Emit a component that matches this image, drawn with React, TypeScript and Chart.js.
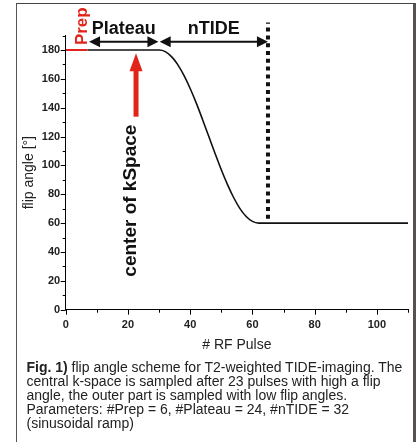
import React, { useEffect, useRef } from "react";
import { Chart, registerables } from "chart.js";

Chart.register(...registerables);

const FONT = "'Liberation Sans', Arial, Helvetica, sans-serif";
const RED = "#e2231a";
const INK = "#111111";

// axis ranges / ticks
const X_MIN = 0;
const X_MAX = 110;
const X_STEP = 10;
const X_LABEL_STEP = 20;
const Y_MIN = 0;
const Y_MAX = 190;
const Y_STEP = 10;
const Y_LABEL_STEP = 20;

// Prep segment (red)
const prepPulses = [0, 7];
const prepAngles = [180, 180];

// flip angle curve (plateau + sinusoidal ramp + low level)
const curvePulses = [7, 30, 32, 34, 36, 38, 40, 42, 44, 46, 48, 50, 52, 54, 56, 58, 60, 62, 110];
const curveAngles = [180, 180, 178.9, 175.4, 169.9, 162.4, 153.3, 143.0, 131.7, 120.0, 108.3, 97.0, 86.7, 77.6, 70.1, 64.6, 61.2, 60, 60];

// end of nTIDE marker (dotted)
const tideEndPulses = [65, 65];
const tideEndAngles = [63, 199];

// annotation anchors (data units)
const PLATEAU_SPAN = [7.5, 29.8];
const TIDE_SPAN = [30.2, 65];
const SPAN_ANGLE = 185.8;
const SPAN_LABEL_ANGLE = 190.9;
const KSPACE_PULSE = 22.6;
const KSPACE_ARROW = [177.7, 133.8];
const KSPACE_TEXT_ANGLE = 22.9;
const PREP_TEXT = [6.8, 183.4];

const toXY = (xs: number[], ys: number[]) => xs.map((x, i) => ({ x, y: ys[i] }));

function arrowHead(ctx: CanvasRenderingContext2D, tx: number, ty: number, dx: number, dy: number, len: number, half: number) {
  // (dx,dy) unit direction of arrow pointing to tip
  const bx = tx - dx * len;
  const by = ty - dy * len;
  ctx.beginPath();
  ctx.moveTo(tx, ty);
  ctx.lineTo(bx - dy * half, by + dx * half);
  ctx.lineTo(bx + dy * half, by - dx * half);
  ctx.closePath();
  ctx.fill();
}

const annotationPlugin = {
  id: "tideAnnotations",
  afterDraw(chart: any) {
    const ctx: CanvasRenderingContext2D = chart.ctx;
    const xs = chart.scales.x;
    const ys = chart.scales.y;
    const area = chart.chartArea;
    ctx.save();

    // tick marks (major + minor)
    ctx.strokeStyle = "#000";
    ctx.lineWidth = 1;
    ctx.beginPath();
    for (let v = X_MIN; v <= X_MAX; v += X_STEP) {
      const px = Math.round(xs.getPixelForValue(v)) + 0.5;
      const len = v % X_LABEL_STEP === 0 ? 5 : 3;
      ctx.moveTo(px, area.bottom);
      ctx.lineTo(px, area.bottom + len);
    }
    for (let v = Y_MIN; v <= Y_MAX; v += Y_STEP) {
      const py = Math.round(ys.getPixelForValue(v)) + 0.5;
      const len = v % Y_LABEL_STEP === 0 ? 5 : 3;
      ctx.moveTo(area.left, py);
      ctx.lineTo(area.left - len, py);
    }
    ctx.stroke();

    // span arrows
    ctx.fillStyle = INK;
    ctx.strokeStyle = INK;
    ctx.lineWidth = 2;
    const ay = ys.getPixelForValue(SPAN_ANGLE);
    for (const span of [PLATEAU_SPAN, TIDE_SPAN]) {
      const x0 = xs.getPixelForValue(span[0]);
      const x1 = xs.getPixelForValue(span[1]);
      ctx.beginPath();
      ctx.moveTo(x0 + 6, ay);
      ctx.lineTo(x1 - 6, ay);
      ctx.stroke();
      arrowHead(ctx, x0, ay, -1, 0, 11, 5.5);
      arrowHead(ctx, x1, ay, 1, 0, 11, 5.5);
    }

    // span labels
    ctx.font = `bold 18px ${FONT}`;
    ctx.textAlign = "center";
    ctx.textBaseline = "alphabetic";
    const ly = ys.getPixelForValue(SPAN_LABEL_ANGLE);
    ctx.fillText("Plateau", xs.getPixelForValue((PLATEAU_SPAN[0] + PLATEAU_SPAN[1]) / 2), ly);
    ctx.fillText("nTIDE", xs.getPixelForValue((TIDE_SPAN[0] + TIDE_SPAN[1]) / 2), ly);

    // Prep label (red, rotated)
    ctx.fillStyle = RED;
    ctx.font = `bold 17px ${FONT}`;
    ctx.save();
    ctx.translate(xs.getPixelForValue(PREP_TEXT[0]), ys.getPixelForValue(PREP_TEXT[1]));
    ctx.rotate(-Math.PI / 2);
    ctx.textAlign = "left";
    ctx.fillText("Prep", 0, 0);
    ctx.restore();

    // center of k-space arrow
    const kx = xs.getPixelForValue(KSPACE_PULSE);
    const tipY = ys.getPixelForValue(KSPACE_ARROW[0]);
    const tailY = ys.getPixelForValue(KSPACE_ARROW[1]);
    ctx.fillRect(kx - 2.5, tipY + 16, 5, tailY - tipY - 16);
    arrowHead(ctx, kx, tipY, 0, -1, 18, 6.5);

    // center of kSpace label
    ctx.fillStyle = INK;
    ctx.font = `bold 19px ${FONT}`;
    ctx.save();
    ctx.translate(xs.getPixelForValue(KSPACE_PULSE), ys.getPixelForValue(KSPACE_TEXT_ANGLE));
    ctx.rotate(-Math.PI / 2);
    ctx.textAlign = "left";
    ctx.fillText("center of kSpace", 0, 0);
    ctx.restore();

    ctx.restore();
  },
};

export default function App() {
  const ref = useRef<HTMLCanvasElement | null>(null);

  useEffect(() => {
    if (!ref.current) return;
    const chart = new Chart(ref.current, {
      type: "line",
      data: {
        datasets: [
          {
            label: "Prep",
            data: toXY(prepPulses, prepAngles),
            borderColor: RED,
            borderWidth: 2,
            pointRadius: 0,
            fill: false,
          },
          {
            label: "flip angle",
            data: toXY(curvePulses, curveAngles),
            borderColor: INK,
            borderWidth: 1.6,
            pointRadius: 0,
            cubicInterpolationMode: "monotone",
            fill: false,
          },
          {
            label: "nTIDE end",
            data: toXY(tideEndPulses, tideEndAngles),
            borderColor: INK,
            borderWidth: 4,
            borderDash: [4, 3.8],
            borderCapStyle: "butt",
            pointRadius: 0,
            fill: false,
            clip: false,
          },
        ],
      },
      options: {
        animation: false,
        responsive: false,
        events: [],
        layout: { padding: { left: 0, top: 35.6, right: 9, bottom: 82.3 } },
        plugins: { legend: { display: false }, tooltip: { enabled: false } },
        scales: {
          x: {
            type: "linear",
            min: X_MIN,
            max: X_MAX,
            afterFit: (s: any) => {
              s.height = 50;
            },
            grid: { display: false, drawTicks: false },
            border: { display: true, color: "#000", width: 1 },
            ticks: {
              stepSize: X_STEP,
              padding: 9,
              maxRotation: 0,
              autoSkip: false,
              color: "#222",
              font: { family: FONT, size: 11, weight: "bold" },
              callback: (v: any) => (Number(v) % X_LABEL_STEP === 0 && Number(v) <= 100 ? String(v) : ""),
            },
            title: {
              display: true,
              text: "# RF Pulse",
              color: "#222",
              font: { family: FONT, size: 14 },
              padding: { top: 0, bottom: 6.3 },
            },
          },
          y: {
            type: "linear",
            min: Y_MIN,
            max: Y_MAX,
            afterFit: (s: any) => {
              s.width = 65.7;
            },
            grid: { display: false, drawTicks: false },
            border: { display: true, color: "#000", width: 1 },
            ticks: {
              stepSize: Y_STEP,
              padding: 5.5,
              autoSkip: false,
              color: "#222",
              font: { family: FONT, size: 11, weight: "bold" },
              callback: (v: any) => (Number(v) % Y_LABEL_STEP === 0 && Number(v) <= 180 ? String(v) : ""),
            },
            title: {
              display: true,
              text: "flip angle [°]",
              color: "#222",
              font: { family: FONT, size: 14 },
              padding: { top: 20.6, bottom: 0 },
            },
          },
        },
      },
      plugins: [annotationPlugin],
    } as any);
    return () => chart.destroy();
  }, []);

  return (
    <div style={{ position: "fixed", left: 0, top: 0, width: 417, height: 442, overflow: "hidden", background: "#fff" }}>
      <div
        style={{
          position: "absolute",
          left: 16,
          top: 3,
          width: 396,
          height: 470,
          borderLeft: "1.5px solid #555",
          borderTop: "1.5px solid #444",
          borderRight: "3px solid #57524f",
        }}
      />
      <canvas ref={ref} width={417} height={442} style={{ position: "absolute", left: 0, top: 0, width: 417, height: 442 }} />
      <div
        style={{
          position: "absolute",
          left: 26.5,
          top: 359.6,
          fontFamily: FONT,
          fontSize: 14,
          lineHeight: "14.2px",
          color: "#222",
          whiteSpace: "nowrap",
        }}
      >
        <b>Fig. 1)</b> flip angle scheme for T2-weighted TIDE-imaging. The
        <br />
        central k-space is sampled after 23 pulses with high a flip
        <br />
        angle, the outer part is sampled with low flip angles.
        <br />
        Parameters: #Prep = 6, #Plateau = 24, #nTIDE = 32
        <br />
        (sinusoidal ramp)
      </div>
    </div>
  );
}
